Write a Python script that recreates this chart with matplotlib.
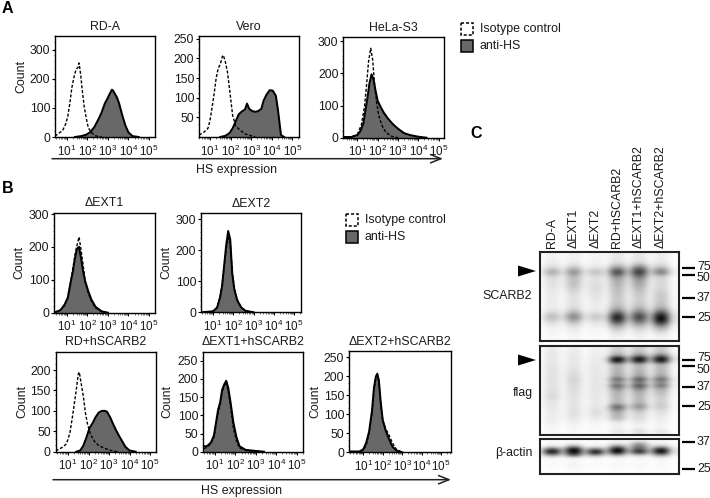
import numpy as np
import matplotlib
matplotlib.use("Agg")
import matplotlib.pyplot as plt
from matplotlib.patches import Rectangle, Polygon
from matplotlib.ticker import FixedLocator, MultipleLocator, NullFormatter

plt.rcParams['font.family'] = ['Liberation Sans', 'DejaVu Sans']
plt.rcParams['mathtext.default'] = 'regular'

W, H = 710, 498
TEXT = '#1a1a1a'
FILL = '#686868'

# histogram data: log10 of HS expression and counts
rda_iso_x = [.43, .6, .8, .95, 1.05, 1.15, 1.25, 1.35, 1.45, 1.55, 1.6, 1.68, 1.75, 1.85, 1.95, 2.05, 2.2, 2.4, 2.7]
rda_iso_y = [3, 12, 22, 45, 70, 115, 170, 205, 232, 240, 255, 215, 165, 105, 65, 32, 15, 4, 0]
rda_hs_x = [1.4, 1.7, 1.95, 2.15, 2.35, 2.55, 2.7, 2.85, 3.0, 3.1, 3.2, 3.25, 3.35, 3.45, 3.55, 3.7, 3.85, 4.0, 4.2, 4.5]
rda_hs_y = [0, 3, 8, 17, 35, 62, 85, 115, 135, 150, 163, 160, 148, 135, 115, 75, 40, 16, 3, 0]

vero_iso_x = [.47, .7, .9, 1.0, 1.1, 1.2, 1.3, 1.4, 1.5, 1.6, 1.65, 1.75, 1.85, 2.0, 2.1, 2.25, 2.45, 2.7, 3.0, 3.2]
vero_iso_y = [5, 12, 22, 42, 75, 110, 150, 175, 185, 205, 208, 190, 165, 100, 55, 28, 18, 8, 3, 0]
vero_hs_x = [1.5, 1.75, 1.95, 2.1, 2.25, 2.4, 2.55, 2.7, 2.8, 2.9, 3.05, 3.2, 3.35, 3.5, 3.6, 3.75, 3.9, 4.05, 4.2, 4.3, 4.45, 4.6]
vero_hs_y = [0, 3, 10, 22, 40, 58, 65, 70, 85, 72, 66, 64, 66, 72, 92, 108, 119, 118, 105, 70, 5, 0]

hela_iso_x = [.31, .7, 1.0, 1.2, 1.35, 1.45, 1.55, 1.66, 1.75, 1.85, 1.95, 2.05, 2.2, 2.35, 2.5, 2.7, 3.0]
hela_iso_y = [2, 2, 10, 40, 95, 160, 235, 278, 245, 165, 110, 70, 40, 22, 12, 4, 0]
hela_hs_x = [.31, .7, 1.0, 1.15, 1.3, 1.4, 1.5, 1.6, 1.7, 1.8, 1.9, 2.0, 2.15, 2.3, 2.5, 2.75, 3.0, 3.3, 3.6, 4.0, 4.4]
hela_hs_y = [2, 2, 8, 20, 45, 85, 125, 170, 197, 180, 145, 115, 95, 78, 60, 42, 28, 14, 8, 3, 0]

ext1_x = [.42, .7, .9, 1.05, 1.2, 1.3, 1.4, 1.5, 1.6, 1.7, 1.8, 1.9, 2.05, 2.2, 2.4, 2.7, 3.0]
ext1_iso_y = [2, 8, 22, 45, 95, 135, 175, 205, 230, 190, 145, 95, 60, 35, 15, 3, 0]
ext1_hs_y = [0, 8, 25, 45, 95, 125, 165, 195, 200, 165, 125, 95, 65, 40, 18, 4, 0]

ext2_x = [.4, 1.0, 1.2, 1.35, 1.45, 1.55, 1.65, 1.75, 1.85, 1.95, 2.05, 2.2, 2.4, 2.6, 3.0]
ext2_iso_y = [0, 3, 15, 50, 90, 145, 205, 240, 225, 130, 80, 40, 15, 5, 0]
ext2_hs_y = [0, 3, 15, 48, 85, 150, 215, 262, 235, 125, 75, 38, 15, 5, 0]

rdh_iso_x = [.4, .7, .9, 1.0, 1.1, 1.2, 1.3, 1.4, 1.5, 1.55, 1.65, 1.75, 1.85, 1.95, 2.1, 2.3, 2.5, 2.8, 3.1, 3.4]
rdh_iso_y = [2, 10, 18, 30, 48, 80, 115, 150, 190, 195, 165, 135, 95, 68, 42, 25, 15, 8, 3, 0]
rdh_hs_x = [1.4, 1.6, 1.75, 1.9, 2.05, 2.2, 2.35, 2.5, 2.65, 2.8, 2.9, 3.05, 3.2, 3.35, 3.5, 3.65, 3.8, 4.0, 4.3]
rdh_hs_y = [0, 3, 15, 35, 58, 70, 85, 96, 100, 100, 98, 85, 68, 52, 38, 25, 12, 3, 0]

ext1h_x = [.45, .6, .8, .95, 1.05, 1.15, 1.25, 1.35, 1.45, 1.55, 1.65, 1.75, 1.9, 2.05, 2.2, 2.5, 3.0, 3.4]
ext1h_iso_y = [8, 12, 22, 40, 75, 105, 130, 165, 180, 192, 165, 130, 65, 30, 10, 4, 0, 0]
ext1h_hs_y = [15, 15, 25, 45, 80, 115, 135, 170, 185, 195, 175, 140, 80, 40, 15, 5, 2, 0]

ext2h_x = [.35, .8, 1.0, 1.15, 1.3, 1.45, 1.55, 1.65, 1.72, 1.8, 1.9, 2.0, 2.15, 2.3, 2.5, 2.7, 3.0]
ext2h_iso_y = [2, 2, 5, 20, 50, 105, 165, 198, 203, 185, 125, 85, 62, 48, 25, 8, 0]
ext2h_hs_y = [2, 2, 8, 25, 55, 110, 170, 200, 207, 190, 130, 85, 58, 38, 15, 5, 0]

# blot darkness, one row per band of the membrane, one column per lane
lanes = ['RD-A', 'ΔEXT1', 'ΔEXT2', 'RD+hSCARB2', 'ΔEXT1+hSCARB2', 'ΔEXT2+hSCARB2']
scarb2_blot = [
    [.06, .06, .05, .10, .10, .08],
    [.06, .06, .05, .10, .10, .08],
    [.08, .08, .06, .14, .16, .10],
    [.15, .22, .10, .40, .55, .25],
    [.38, .48, .28, .80, .85, .60],
    [.16, .28, .14, .45, .55, .18],
    [.12, .25, .12, .32, .38, .16],
    [.12, .25, .14, .30, .34, .16],
    [.10, .18, .14, .26, .26, .18],
    [.08, .14, .12, .24, .22, .22],
    [.08, .12, .10, .22, .20, .22],
    [.08, .12, .08, .24, .22, .24],
    [.08, .14, .08, .30, .28, .30],
    [.14, .28, .10, .55, .50, .62],
    [.30, .52, .25, .95, .78, 1.0],
    [.18, .32, .14, .78, .60, .95],
    [.08, .14, .07, .38, .30, .50],
    [.05, .08, .04, .18, .14, .22],
    [.04, .05, .03, .08, .07, .08],
    [.03, .04, .03, .05, .05, .05],
]
flag_blot = [
    [.08, .07, .05, .18, .20, .20],
    [.09, .08, .06, .20, .22, .22],
    [.10, .09, .07, .24, .26, .26],
    [.10, .09, .07, .38, .48, .55],
    [.10, .10, .08, 1.0, 1.0, 1.0],
    [.10, .10, .08, .90, .85, .85],
    [.11, .10, .09, .32, .30, .30],
    [.11, .12, .10, .30, .28, .28],
    [.12, .12, .10, .30, .30, .28],
    [.12, .14, .10, .32, .32, .30],
    [.12, .16, .10, .36, .40, .38],
    [.12, .18, .10, .62, .70, .62],
    [.12, .16, .10, .38, .45, .40],
    [.12, .15, .10, .62, .70, .58],
    [.13, .14, .10, .45, .50, .35],
    [.13, .14, .10, .32, .35, .28],
    [.14, .12, .10, .30, .30, .24],
    [.16, .12, .10, .28, .28, .20],
    [.12, .12, .09, .28, .28, .18],
    [.10, .11, .09, .32, .32, .20],
    [.10, .12, .10, .62, .46, .22],
    [.09, .12, .12, .50, .30, .16],
    [.08, .12, .13, .32, .20, .12],
    [.08, .12, .12, .30, .16, .10],
    [.08, .10, .08, .28, .14, .08],
    [.07, .08, .06, .12, .10, .07],
    [.05, .05, .04, .06, .06, .05],
    [.04, .04, .03, .05, .05, .04],
    [.04, .04, .03, .10, .14, .10],
    [.03, .03, .03, .08, .12, .08],
]
actin_blot = [
    [.02, .02, .02, .05, .05, .03],
    [.03, .05, .03, .08, .35, .05],
    [.10, .35, .05, .45, .55, .25],
    [.70, 1.0, .55, 1.0, .65, .90],
    [1.0, 1.0, 1.0, 1.0, .90, 1.0],
    [.40, .65, .40, .35, .20, .40],
    [.03, .05, .03, .03, .03, .05],
    [.02, .03, .02, .02, .02, .03],
    [.02, .05, .02, .03, .03, .03],
    [.02, .05, .02, .03, .03, .02],
    [.01, .03, .01, .02, .02, .02],
    [.01, .01, .01, .01, .01, .01],
]
scarb2_mw = ['75', '50', '37', '25']
flag_mw = ['75', '50', '37', '25']
actin_mw = ['37', '25']

fig = plt.figure(figsize=(W / 100, H / 100), dpi=100)


def px_axes(left, top, right, bottom):
    return fig.add_axes([left / W, 1 - bottom / H, (right - left) / W, (bottom - top) / H])


def histogram(box, tick1, tick5, ytop, yticks, title, iso, hs, count_x=None):
    left, top, right, bottom = box
    ax = px_axes(left, top, right, bottom)
    decade = (tick5 - tick1) / 4
    ax.set_xlim(10 ** (1 - (tick1 - left) / decade), 10 ** (5 + (right - tick5) / decade))
    ax.set_xscale('log')
    ax.set_ylim(0, ytop)

    hs_x = 10 ** np.array(hs[0])
    iso_x = 10 ** np.array(iso[0])
    ax.fill_between(hs_x, hs[1], color=FILL, lw=0)
    ax.plot(hs_x, hs[1], color='black', lw=1.45, solid_joinstyle='round')
    ax.plot(iso_x, iso[1], color='black', lw=1.0, ls=(0, (2.2, 1.3)))

    ax.set_xticks([10, 100, 1000, 10000, 100000])
    ax.set_xticklabels(['10$^{%d}$' % d for d in range(1, 6)], fontsize=8.4, color=TEXT)
    minor = [m * 10 ** d for d in range(0, 6) for m in range(2, 10)]
    ax.xaxis.set_minor_locator(FixedLocator(minor))
    ax.xaxis.set_minor_formatter(NullFormatter())
    ax.tick_params(axis='x', which='major', length=2.2, width=0.7, pad=2.5)
    ax.tick_params(axis='x', which='minor', length=1.2, width=0.4)
    ax.set_yticks(yticks)
    ax.set_yticklabels([str(v) for v in yticks], fontsize=8.8, color=TEXT)
    ax.yaxis.set_minor_locator(MultipleLocator(ytop / 16))
    ax.tick_params(axis='y', which='major', length=2.5, width=0.8, pad=1)
    ax.tick_params(axis='y', which='minor', length=1.0, width=0.4)
    for side in ax.spines.values():
        side.set_linewidth(1.0)
    overlay.text((left + right) / 2, top - 9.5, title, ha='center', va='center',
                 fontsize=8.9, color=TEXT)
    if count_x is not None:
        overlay.text(count_x, (top + bottom) / 2 - 10 if top < 100 else (top + bottom) / 2,
                     'Count', rotation=90, ha='center', va='center', fontsize=8.9, color=TEXT)


def blot(box, rows):
    left, top, right, bottom = box
    ax = px_axes(left, top, right, bottom)
    rows = np.array(rows)
    # two columns per lane and a paler gap between lanes
    gap = np.zeros((rows.shape[0], 7))
    gap[:, 1:6] = (rows[:, :-1] + rows[:, 1:]) / 2 * 0.22
    gap[:, 0] = rows[:, 0] * 0.12
    gap[:, 6] = rows[:, -1] * 0.12
    cols = [gap[:, 0]]
    for i in range(6):
        cols += [rows[:, i], rows[:, i], gap[:, i + 1]]
    cols.append(gap[:, 6])
    image = np.column_stack(cols)
    col_w = 7.27
    ax.imshow(image, cmap='gray_r', vmin=0, vmax=1, aspect='auto', interpolation='bicubic',
              extent=(-2.5, -2.5 + image.shape[1] * col_w, bottom - top, 0))
    ax.set_xlim(0, right - left)
    ax.set_ylim(bottom - top, 0)
    ax.set_xticks([])
    ax.set_yticks([])
    for side in ax.spines.values():
        side.set_linewidth(1.5)
        side.set_color('#222222')


def mw_marks(labels, bar_y, label_y):
    for text, by, ly in zip(labels, bar_y, label_y):
        overlay.plot([682, 695], [by, by], color='black', lw=1.6, solid_capstyle='butt')
        overlay.text(697, ly, text, ha='left', va='center', fontsize=8.9, color=TEXT)


def legend(x, y1, y2):
    overlay.add_patch(Rectangle((x, y1 - 6), 12.5, 12, fc='white', ec='black', lw=1.1, ls=(0, (2, 1.3))))
    overlay.add_patch(Rectangle((x, y2 - 6), 12.5, 12, fc=FILL, ec='black', lw=1.1))
    overlay.text(x + 19, y1, 'Isotype control', va='center', fontsize=8.9, color=TEXT)
    overlay.text(x + 19, y2, 'anti-HS', va='center', fontsize=8.9, color=TEXT)


def expression_axis(x0, x1, y, label_x, label_y):
    overlay.annotate('', xy=(x1, y), xytext=(x0, y),
                     arrowprops=dict(arrowstyle='->,head_length=0.75,head_width=0.3', color='#222222',
                                     lw=1.1, shrinkA=0, shrinkB=0, mutation_scale=10))
    overlay.text(label_x, label_y, 'HS expression', ha='center', va='center', fontsize=8.9, color=TEXT)


def arrowhead(tip_x, y):
    overlay.add_patch(Polygon([(tip_x, y), (tip_x - 18, y - 5.5), (tip_x - 18, y + 5.5)], fc='black', ec='none'))


# pixel overlay for labels, legend boxes and arrows
overlay = fig.add_axes([0, 0, 1, 1], zorder=5)
overlay.set_xlim(0, W)
overlay.set_ylim(H, 0)
overlay.axis('off')

histogram((55, 36, 155, 137), 66.7, 149, 348, [0, 100, 200, 300], 'RD-A',
          (rda_iso_x, rda_iso_y), (rda_hs_x, rda_hs_y), count_x=21.7)
histogram((199, 36, 299, 137), 210, 292.3, 257, [50, 100, 150, 200, 250], 'Vero',
          (vero_iso_x, vero_iso_y), (vero_hs_x, vero_hs_y))
histogram((343.3, 37, 444.3, 137.7), 357.3, 438.7, 313, [0, 100, 200, 300], 'HeLa-S3',
          (hela_iso_x, hela_iso_y), (hela_hs_x, hela_hs_y))
histogram((54, 212.7, 155, 312.7), 66.7, 149, 304, [0, 100, 200, 300], 'ΔEXT1',
          (ext1_x, ext1_iso_y), (ext1_x, ext1_hs_y), count_x=19)
histogram((201, 213, 301.3, 312.3), 213, 294, 320, [0, 100, 200, 300], 'ΔEXT2',
          (ext2_x, ext2_iso_y), (ext2_x, ext2_hs_y), count_x=166)
histogram((55.7, 351.7, 155.7, 451.7), 68, 150, 245, [0, 50, 100, 150, 200], 'RD+hSCARB2',
          (rdh_iso_x, rdh_iso_y), (rdh_hs_x, rdh_hs_y), count_x=22)
histogram((203, 351.7, 303.3, 451.7), 215, 296.7, 275, [0, 50, 100, 150, 200, 250], 'ΔEXT1+hSCARB2',
          (ext1h_x, ext1h_iso_y), (ext1h_x, ext1h_hs_y), count_x=167)
histogram((349, 351.3, 451.3, 452.3), 363.3, 441, 266, [0, 50, 100, 150, 200, 250], 'ΔEXT2+hSCARB2',
          (ext2h_x, ext2h_iso_y), (ext2h_x, ext2h_hs_y), count_x=315.7)

legend(460.5, 29, 45.5)
legend(345.7, 220, 236.5)
expression_axis(52, 443, 158.7, 236, 169.5)
expression_axis(53, 451, 479.7, 241.7, 491)

for letter, x, y in [('A', 1.5, 8), ('B', 1.5, 188), ('C', 470, 133)]:
    overlay.text(x, y, letter, fontsize=11.5, fontweight='bold', va='center', color='black')

# panel C
blot((540, 252, 679, 341), scarb2_blot)
blot((540, 345.7, 679, 435), flag_blot)
blot((540, 439.3, 679, 474), actin_blot)

for name, x in zip(lanes, [551.7, 574, 596, 617, 639, 661]):
    overlay.text(x, 247.5, name, rotation=90, ha='center', va='bottom', fontsize=8.9, color=TEXT)

mw_marks(scarb2_mw, [267.7, 275.3, 298.3, 317.3], [266.7, 277.7, 298.3, 317.7])
mw_marks(flag_mw, [359.7, 366.3, 387.3, 406], [358, 370, 387.3, 406.7])
mw_marks(actin_mw, [442, 469], [441.7, 469.3])

arrowhead(536, 271)
arrowhead(536, 360)
overlay.text(532, 296, 'SCARB2', ha='right', va='center', fontsize=8.9, color=TEXT)
overlay.text(532.7, 393, 'flag', ha='right', va='center', fontsize=8.9, color=TEXT)
overlay.text(533, 453, 'β-actin', ha='right', va='center', fontsize=8.9, color=TEXT)

fig.savefig('out.png', dpi=100)
